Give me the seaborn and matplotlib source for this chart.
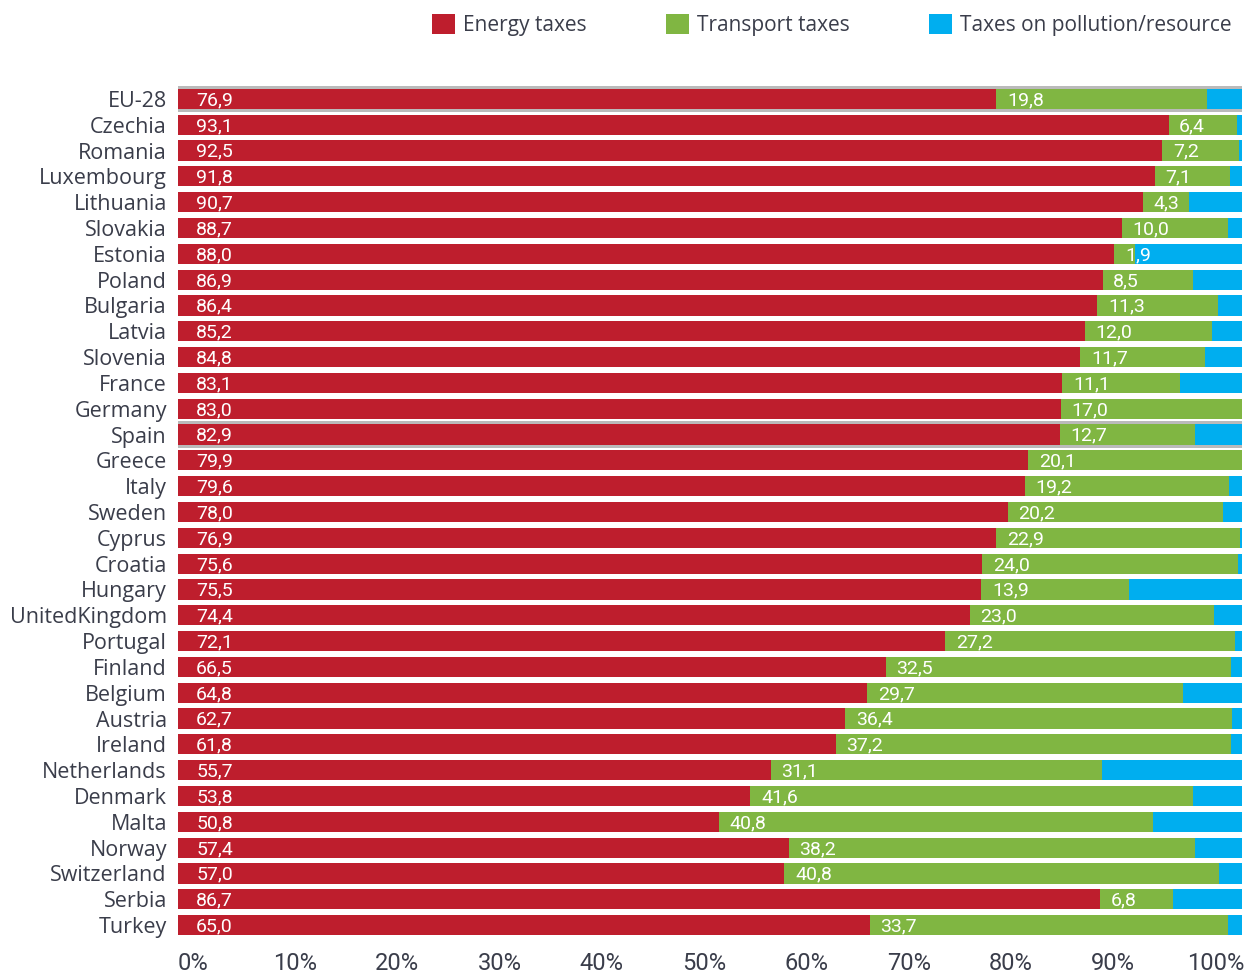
import numpy as np
import pandas as pd
import matplotlib
matplotlib.use("Agg")
import matplotlib.pyplot as plt
import seaborn as sns
from matplotlib.patches import Patch

countries = ["EU-28", "Czechia", "Romania", "Luxembourg", "Lithuania", "Slovakia", "Estonia",
             "Poland", "Bulgaria", "Latvia", "Slovenia", "France", "Germany", "Spain", "Greece",
             "Italy", "Sweden", "Cyprus", "Croatia", "Hungary", "UnitedKingdom", "Portugal",
             "Finland", "Belgium", "Austria", "Ireland", "Netherlands", "Denmark", "Malta",
             "Norway", "Switzerland", "Serbia", "Turkey"]
energy = [76.9, 93.1, 92.5, 91.8, 90.7, 88.7, 88.0, 86.9, 86.4, 85.2, 84.8, 83.1, 83.0, 82.9,
          79.9, 79.6, 78.0, 76.9, 75.6, 75.5, 74.4, 72.1, 66.5, 64.8, 62.7, 61.8, 55.7, 53.8,
          50.8, 57.4, 57.0, 86.7, 65.0]
transport = [19.8, 6.4, 7.2, 7.1, 4.3, 10.0, 1.9, 8.5, 11.3, 12.0, 11.7, 11.1, 17.0, 12.7,
             20.1, 19.2, 20.2, 22.9, 24.0, 13.9, 23.0, 27.2, 32.5, 29.7, 36.4, 37.2, 31.1, 41.6,
             40.8, 38.2, 40.8, 6.8, 33.7]
pollution = [max(0.0, round(100 - e - t, 1)) for e, t in zip(energy, transport)]
highlighted = ["EU-28", "Spain"]
series_names = ["Energy taxes", "Transport taxes", "Taxes on pollution/resource"]
tick_labels = ["0%", "10%", "20%", "30%", "40%", "50%", "60%", "70%", "80%", "90%", "100%"]

RED, GREEN, BLUE = "#BE1E2D", "#80B642", "#00AEEF"
TEXT = "#3A3D4A"

df = pd.DataFrame({"country": countries, "energy": energy, "transport": transport,
                   "pollution": pollution})
df["cum_et"] = df["energy"] + df["transport"]
df["cum_all"] = df["cum_et"] + df["pollution"]

sns.set_theme(style="white")
plt.rcParams["font.family"] = ["Open Sans", "DejaVu Sans"]

fig = plt.figure(figsize=(12.49, 9.73), dpi=100)
ax = fig.add_axes([178 / 1249, 1 - 938 / 973, (1242 - 178) / 1249, (938 - 86) / 973])

# highlight shadow for selected rows
hl = df["country"].isin(highlighted)
sns.barplot(data=df.assign(sh=(df["cum_all"] + 0.3).where(hl, 0)), x="sh", y="country",
            color="#8C8C8C", width=1.02, ax=ax, orient="h", alpha=0.6, saturation=1,
            linewidth=0)

for col, c in (("cum_all", BLUE), ("cum_et", GREEN), ("energy", RED)):
    sns.barplot(data=df, x=col, y="country", color=c, width=0.78, ax=ax, orient="h",
                saturation=1, linewidth=0)

label_font = ["Liberation Sans Narrow", "Roboto", "DejaVu Sans"]
for i, (e, t) in enumerate(zip(energy, transport)):
    ax.text(1.7, i + 0.05, f"{e:.1f}".replace(".", ","), color="white", va="center",
            ha="left", fontsize=14, family=label_font)
    ax.text(e + 1.0, i + 0.05, f"{t:.1f}".replace(".", ","), color="white", va="center",
            ha="left", fontsize=14, family=label_font)

ax.set_xlim(0, 100)
ax.set_ylim(len(countries) - 0.5, -0.5)
ax.set_xlabel("")
ax.set_ylabel("")
ax.set_xticks(np.linspace(1.4, 97.5, len(tick_labels)))
ax.set_xticklabels(tick_labels, fontsize=17, color=TEXT, family=label_font)
ax.tick_params(axis="x", length=0, pad=10)
ax.tick_params(axis="y", length=0, pad=8, labelsize=15.5, labelcolor=TEXT)
for s in ax.spines.values():
    s.set_visible(False)

handles = [Patch(facecolor=c, edgecolor="none") for c in (RED, GREEN, BLUE)]
fig.legend(handles, series_names, loc="center", bbox_to_anchor=(832 / 1249, 1 - 25 / 973),
           ncol=3, frameon=False, fontsize=15, handlelength=1.1, handleheight=1.1,
           handletextpad=0.4, columnspacing=3.8, labelcolor=TEXT)

fig.savefig("out.png", dpi=100)
